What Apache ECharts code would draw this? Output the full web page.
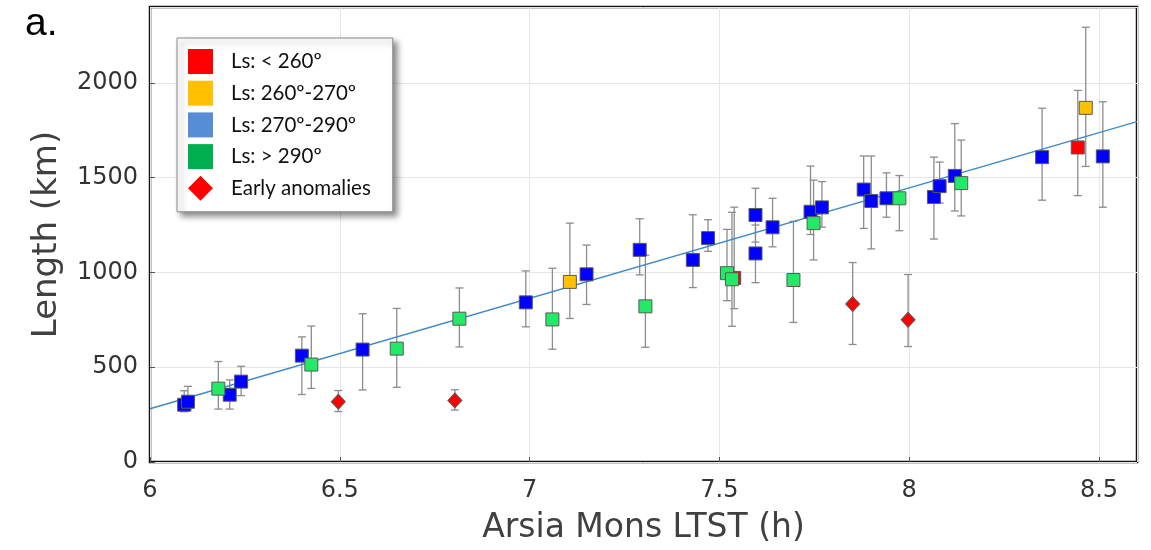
<!DOCTYPE html>
<html>
<head>
<meta charset="utf-8">
<script src="https://cdn.jsdelivr.net/npm/echarts@6/dist/echarts.min.js"></script>
<style>
  html, body { margin: 0; padding: 0; background: #fff; }
  #chart { width: 1151px; height: 550px; }
</style>
</head>
<body>
<div id="chart"></div>
<script>
// ---- Data ----
// Ls 270º-290º (blue squares): x (h), length (km), error low, error high
const blueX  = [6.09, 6.10, 6.21, 6.24, 6.40, 6.56, 6.99, 7.15, 7.29, 7.43, 7.47, 7.595, 7.595, 7.64, 7.74, 7.77, 7.88, 7.90, 7.94, 8.065, 8.08, 8.12, 8.35, 8.51];
const blueY  = [302, 318, 355, 424, 561, 593, 842, 990, 1119, 1066, 1181, 1303, 1100, 1238, 1320, 1343, 1437, 1377, 1391, 1398, 1455, 1509, 1608, 1612];
const blueLo = [265, 275, 279, 350, 356, 380, 713, 831, 987, 920, 1111, 1160, 946, 1135, 1200, 1239, 1232, 1124, 1291, 1176, 1366, 1324, 1381, 1344];
const blueHi = [376, 399, 433, 505, 660, 782, 1008, 1144, 1283, 1304, 1278, 1444, 1250, 1391, 1561, 1479, 1614, 1614, 1525, 1608, 1582, 1785, 1866, 1900];

// Ls > 290º (green squares)
const greenX  = [6.18, 6.425, 6.65, 6.815, 7.06, 7.305, 7.52, 7.533, 7.695, 7.748, 7.974, 8.137];
const greenY  = [387, 514, 598, 756, 752, 821, 996, 964, 960, 1260, 1391, 1471];
const greenLo = [279, 388, 394, 607, 595, 605, 851, 716, 736, 1066, 1220, 1298];
const greenHi = [530, 717, 810, 918, 1022, 1091, 1227, 1317, 1269, 1487, 1511, 1698];

// Ls 260º-270º (yellow squares)
const yellowX  = [7.106, 8.465];
const yellowY  = [950, 1868];
const yellowLo = [757, 1559];
const yellowHi = [1260, 2293];

// Ls < 260º (red squares)
const redX  = [7.539, 8.444];
const redY  = [971, 1659];
const redLo = [809, 1405];
const redHi = [1344, 1960];

// Early anomalies (red diamonds)
const anomX  = [6.496, 6.803, 7.851, 7.997];
const anomY  = [318, 325, 833, 750];
const anomLo = [266, 274, 620, 609];
const anomHi = [377, 381, 1052, 989];

// Linear fit end points
const fitX = [6.0, 8.6];
const fitY = [281, 1795];

const legendNames = ['Ls: < 260º', 'Ls: 260º-270º', 'Ls: 270º-290º', 'Ls: > 290º', 'Early anomalies'];

// ---- Build series data ----
function pts(xs, ys) { return xs.map((x, i) => [x, ys[i]]); }
function bars(xs, lo, hi) { return xs.map((x, i) => [x, lo[i], hi[i]]); }

const errData = [].concat(
  bars(redX, redLo, redHi),
  bars(yellowX, yellowLo, yellowHi),
  bars(blueX, blueLo, blueHi),
  bars(greenX, greenLo, greenHi),
  bars(anomX, anomLo, anomHi)
);

const chart = echarts.init(document.getElementById('chart'), null, { renderer: 'canvas' });

const markerBorder = { borderColor: '#5a5a5a', borderWidth: 1 };
const font = '"DejaVu Sans", sans-serif';

chart.setOption({
  animation: false,
  backgroundColor: '#ffffff',
  title: {
    text: 'a.',
    left: 20,
    top: 0,
    textStyle: { fontFamily: 'Liberation Sans', fontSize: 39, fontWeight: 'normal', color: '#000' }
  },
  grid: {
    left: 150, right: 14, top: 7, bottom: 88,
    show: true,
    borderColor: '#111',
    borderWidth: 2.5,
    backgroundColor: '#fff'
  },
  legend: {
    orient: 'vertical',
    left: 177,
    top: 38,
    padding: [11, 22, 11, 11],
    itemWidth: 25,
    itemHeight: 25,
    itemGap: 6.7,
    backgroundColor: '#fff',
    borderColor: '#8a8a8a',
    borderWidth: 1,
    shadowColor: 'rgba(0,0,0,0.45)',
    shadowBlur: 6,
    shadowOffsetX: 4,
    shadowOffsetY: 4,
    textStyle: { fontFamily: 'Lato', fontSize: 20.5, color: '#111', padding: [0, 0, 0, 13] },
    data: [
      { name: legendNames[0], icon: 'rect', itemStyle: { color: '#ff0000', borderWidth: 0 } },
      { name: legendNames[1], icon: 'rect', itemStyle: { color: '#ffc000', borderWidth: 0 } },
      { name: legendNames[2], icon: 'rect', itemStyle: { color: '#558ed5', borderWidth: 0 } },
      { name: legendNames[3], icon: 'rect', itemStyle: { color: '#00b050', borderWidth: 0 } },
      { name: legendNames[4], icon: 'diamond', itemStyle: { color: '#ff0000', borderWidth: 0 } }
    ]
  },
  xAxis: {
    type: 'value',
    min: 6, max: 8.6, interval: 0.5,
    name: 'Arsia Mons LTST (h)',
    nameLocation: 'middle',
    nameGap: 50,
    nameTextStyle: { fontFamily: font, fontSize: 33, color: '#404040' },
    axisLine: { show: false },
    axisTick: { show: true, inside: true, length: 5, lineStyle: { color: '#555' } },
    axisLabel: { fontFamily: font, fontSize: 24, color: '#333', margin: 17, showMaxLabel: false,
                 formatter: function (v) { return String(v); } },
    splitLine: { show: true, lineStyle: { color: '#e6e6e6', width: 1 } }
  },
  yAxis: {
    type: 'value',
    min: 0, max: 2400, interval: 500,
    name: 'Length (km)',
    nameLocation: 'middle',
    nameGap: 86,
    nameTextStyle: { fontFamily: font, fontSize: 34, color: '#404040' },
    axisLine: { show: false },
    axisTick: { show: true, inside: true, length: 5, lineStyle: { color: '#555' } },
    axisLabel: { fontFamily: font, fontSize: 24, color: '#333', margin: 12, showMaxLabel: false,
                 formatter: function (v) { return String(v); } },
    splitLine: { show: true, lineStyle: { color: '#e6e6e6', width: 1 } }
  },
  series: [
    {
      name: 'errors',
      type: 'custom',
      z: 1,
      silent: true,
      encode: { x: 0, y: [1, 2] },
      data: errData,
      renderItem: function (params, api) {
        const x = api.value(0);
        const p1 = api.coord([x, api.value(1)]);
        const p2 = api.coord([x, api.value(2)]);
        const w = 4;
        const st = { stroke: '#8c8c8c', lineWidth: 1.3 };
        return {
          type: 'group',
          children: [
            { type: 'line', shape: { x1: p1[0], y1: p1[1], x2: p2[0], y2: p2[1] }, style: st },
            { type: 'line', shape: { x1: p1[0] - w, y1: p1[1], x2: p1[0] + w, y2: p1[1] }, style: st },
            { type: 'line', shape: { x1: p2[0] - w, y1: p2[1], x2: p2[0] + w, y2: p2[1] }, style: st }
          ]
        };
      }
    },
    {
      name: 'fit',
      type: 'line',
      z: 2,
      silent: true,
      symbol: 'none',
      data: pts(fitX, fitY),
      lineStyle: { color: '#3f8ac6', width: 1.4 }
    },
    {
      name: legendNames[0], type: 'scatter', z: 3, symbol: 'rect', symbolSize: 13,
      data: pts(redX, redY), itemStyle: Object.assign({ color: '#ff0000', opacity: 1 }, markerBorder)
    },
    {
      name: legendNames[1], type: 'scatter', z: 3, symbol: 'rect', symbolSize: 13,
      data: pts(yellowX, yellowY), itemStyle: Object.assign({ color: '#ffc000', opacity: 1 }, markerBorder)
    },
    {
      name: legendNames[2], type: 'scatter', z: 3, symbol: 'rect', symbolSize: 13,
      data: pts(blueX, blueY), itemStyle: Object.assign({ color: '#0000ff', opacity: 1 }, markerBorder)
    },
    {
      name: legendNames[3], type: 'scatter', z: 3, symbol: 'rect', symbolSize: 13,
      data: pts(greenX, greenY), itemStyle: Object.assign({ color: '#22ea66', opacity: 1 }, markerBorder)
    },
    {
      name: legendNames[4], type: 'scatter', z: 3, symbol: 'diamond', symbolSize: [14, 15],
      data: pts(anomX, anomY), itemStyle: Object.assign({ color: '#ff0000', opacity: 1 }, markerBorder)
    }
  ]
});
</script>
</body>
</html>
